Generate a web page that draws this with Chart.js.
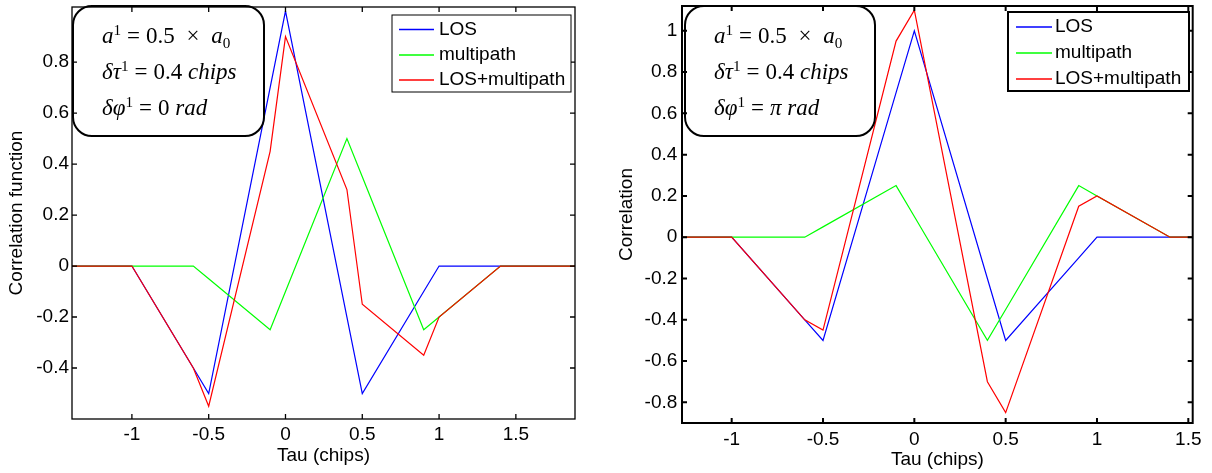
<!DOCTYPE html>
<html>
<head>
<meta charset="utf-8">
<script src="https://cdn.jsdelivr.net/npm/chart.js@4/dist/chart.umd.min.js"></script>
<style>
  body { margin: 0; background: #fff; width: 1212px; height: 473px; overflow: hidden; position: relative; }
  canvas { position: absolute; top: 0; }
  #leftChart { left: 0; }
  #rightChart { left: 606px; }
  .note { position: absolute; top: 5px; width: 189px; height: 128px; border: 2px solid #000; border-radius: 20px;
          font-family: "Liberation Serif", "DejaVu Serif", serif; font-size: 23px; color: #000; }
  .note div { position: absolute; left: 28px; white-space: nowrap; line-height: 24px; }
  .note sup, .note sub { font-size: 0.66em; vertical-align: 0; position: relative; }
  .note sup { top: -0.5em; }
  .note sub { top: 0.3em; }
  .op { margin: 0 6px; font-style: normal; }
</style>
</head>
<body>
<canvas id="leftChart" width="606" height="473"></canvas>
<canvas id="rightChart" width="606" height="473"></canvas>

<div class="note" style="left:72px;">
  <div style="top:17px;"><i>a</i><sup>1</sup><span class="op">=</span>0.5<span class="op">&nbsp;×&nbsp;</span><i>a</i><sub>0</sub></div>
  <div style="top:53px;"><i>δτ</i><sup>1</sup><span class="op">=</span>0.4 <i>chips</i></div>
  <div style="top:89px;"><i>δφ</i><sup>1</sup><span class="op">=</span>0 <i>rad</i></div>
</div>
<div class="note" style="left:684px; width:188px;">
  <div style="top:17px;"><i>a</i><sup>1</sup><span class="op">=</span>0.5<span class="op">&nbsp;×&nbsp;</span><i>a</i><sub>0</sub></div>
  <div style="top:53px;"><i>δτ</i><sup>1</sup><span class="op">=</span>0.4 <i>chips</i></div>
  <div style="top:89px;"><i>δφ</i><sup>1</sup><span class="op">=</span><i>π rad</i></div>
</div>

<script>
// tick positions
const xTicks = [-1, -0.5, 0, 0.5, 1, 1.5];
const yTicksLeft = [-0.4, -0.2, 0, 0.2, 0.4, 0.6, 0.8];
const yTicksRight = [-0.8, -0.6, -0.4, -0.2, 0, 0.2, 0.4, 0.6, 0.8, 1];

// left panel: phase 0 rad
const tauLeft = [-1.39, -1, -0.6, -0.5, -0.1, 0, 0.4, 0.5, 0.9, 1, 1.4, 1.885];
const losLeft = [0, 0, -0.4, -0.5, 0.7, 1, -0.2, -0.5, -0.1, 0, 0, 0];
const multipathLeft = [0, 0, 0, -0.05, -0.25, -0.1, 0.5, 0.35, -0.25, -0.2, 0, 0];
const sumLeft = [0, 0, -0.4, -0.55, 0.45, 0.9, 0.3, -0.15, -0.35, -0.2, 0, 0];

// right panel: phase pi rad
const tauRight = [-1.272, -1, -0.6, -0.5, -0.1, 0, 0.4, 0.5, 0.9, 1, 1.4, 1.524];
const losRight = [0, 0, -0.4, -0.5, 0.7, 1, -0.2, -0.5, -0.1, 0, 0, 0];
const multipathRight = [0, 0, 0, 0.05, 0.25, 0.1, -0.5, -0.35, 0.25, 0.2, 0, 0];
const sumRight = [0, 0, -0.4, -0.45, 0.95, 1.1, -0.7, -0.85, 0.15, 0.2, 0, 0];

const seriesNames = ['LOS', 'multipath', 'LOS+multipath'];
const seriesColors = ['#0000ff', '#00ff00', '#ff0000'];

Chart.defaults.font.family = '"Liberation Sans", Arial, sans-serif';
Chart.defaults.font.size = 19;
Chart.defaults.color = '#000';

// matlab style box with inward ticks on all four sides
const matlabFrame = {
    id: 'matlabFrame',
    afterDatasetsDraw(chart, args, opts) {
        const { ctx, chartArea: a, scales: { x, y } } = chart;
        const len = 5;
        ctx.save();
        ctx.strokeStyle = '#000';
        ctx.lineWidth = opts.lineWidth;
        ctx.beginPath();
        x.ticks.forEach(t => {
            const px = x.getPixelForValue(t.value);
            ctx.moveTo(px, a.bottom); ctx.lineTo(px, a.bottom - len);
            ctx.moveTo(px, a.top); ctx.lineTo(px, a.top + len);
        });
        y.ticks.forEach(t => {
            const py = y.getPixelForValue(t.value);
            ctx.moveTo(a.left, py); ctx.lineTo(a.left + len, py);
            ctx.moveTo(a.right, py); ctx.lineTo(a.right - len, py);
        });
        ctx.stroke();
        ctx.strokeRect(a.left, a.top, a.right - a.left, a.bottom - a.top);
        ctx.restore();
    },
};

// boxed legend inside the plot, top right
const boxLegend = {
    id: 'boxLegend',
    afterDraw(chart, args, opts) {
        const { ctx } = chart;
        ctx.save();
        ctx.fillStyle = '#fff';
        ctx.fillRect(opts.x, opts.y, opts.w, opts.h);
        ctx.strokeStyle = '#000';
        ctx.lineWidth = opts.border;
        ctx.strokeRect(opts.x, opts.y, opts.w, opts.h);
        ctx.font = '19px "Liberation Sans", Arial, sans-serif';
        ctx.textBaseline = 'middle';
        ctx.fillStyle = '#000';
        chart.data.datasets.forEach((ds, i) => {
            const cy = opts.y + opts.rows[i];
            ctx.strokeStyle = ds.borderColor;
            ctx.lineWidth = 1.4;
            ctx.beginPath();
            ctx.moveTo(opts.x + opts.lineFrom, cy);
            ctx.lineTo(opts.x + opts.lineTo, cy);
            ctx.stroke();
            ctx.fillText(ds.label, opts.x + opts.textX, cy);
        });
        ctx.restore();
    },
};

function makeChart(id, tau, series, cfg) {
    return new Chart(document.getElementById(id), {
        type: 'line',
        data: {
            datasets: series.map((vals, i) => ({
                label: seriesNames[i],
                data: tau.map((t, k) => ({ x: t, y: vals[k] })),
                borderColor: seriesColors[i],
                borderWidth: 1.2,
                pointRadius: 0,
                tension: 0,
                order: series.length - 1 - i, // red drawn last, on top
            })),
        },
        options: {
            responsive: false,
            animation: false,
            devicePixelRatio: 1,
            layout: { padding: { left: 0, right: cfg.padRight, top: cfg.padTop, bottom: 0 } },
            scales: {
                x: {
                    type: 'linear',
                    min: tau[0],
                    max: tau[tau.length - 1],
                    afterBuildTicks: s => { s.ticks = xTicks.map(v => ({ value: v })); },
                    afterFit: s => { s.height = cfg.xHeight; s.paddingLeft = 0; s.paddingRight = 0; },
                    ticks: { callback: v => String(v), padding: cfg.xTickPad, maxRotation: 0, autoSkip: false },
                    grid: { display: false, drawTicks: false },
                    border: { display: false },
                    title: { display: true, text: 'Tau (chips)', font: { size: 19 }, padding: { top: 0, bottom: cfg.xTitlePad } },
                },
                y: {
                    min: cfg.yMin,
                    max: cfg.yMax,
                    afterBuildTicks: s => { s.ticks = cfg.yTicks.map(v => ({ value: v })); },
                    afterFit: s => { s.width = cfg.yWidth; s.paddingTop = 0; s.paddingBottom = 0; },
                    ticks: { callback: v => String(v), padding: cfg.yTickPad, autoSkip: false },
                    grid: { display: false, drawTicks: false },
                    border: { display: false },
                    title: { display: true, text: cfg.yTitle, font: { size: 19 }, padding: { top: cfg.yTitlePad, bottom: 0 } },
                },
            },
            plugins: {
                legend: { display: false },
                tooltip: { enabled: false },
                matlabFrame: { lineWidth: cfg.frameWidth },
                boxLegend: cfg.legend,
            },
        },
        plugins: [matlabFrame, boxLegend],
    });
}

makeChart('leftChart', tauLeft, [losLeft, multipathLeft, sumLeft], {
    yMin: -0.6, yMax: 1.016, yTicks: yTicksLeft, yTitle: 'Correlation function',
    padRight: 31, padTop: 7, xHeight: 54, yWidth: 72,
    xTickPad: 4.6, xTitlePad: 5.6, yTickPad: 3, yTitlePad: 5.6, frameWidth: 1.3,
    legend: { x: 392, y: 15, w: 179, h: 77, rows: [14.5, 40, 65], lineFrom: 7, lineTo: 42, textX: 47, border: 1 },
});

makeChart('rightChart', tauRight, [losRight, multipathRight, sumRight], {
    yMin: -0.9, yMax: 1.12, yTicks: yTicksRight, yTitle: 'Correlation',
    padRight: 19.3, padTop: 6, xHeight: 50, yWidth: 76,
    xTickPad: 5.6, xTitlePad: 1.6, yTickPad: 4.7, yTitlePad: 9.6, frameWidth: 2,
    legend: { x: 402, y: 12, w: 181, h: 79, rows: [15, 41, 67], lineFrom: 8, lineTo: 44, textX: 47, border: 2 },
});
</script>
</body>
</html>
